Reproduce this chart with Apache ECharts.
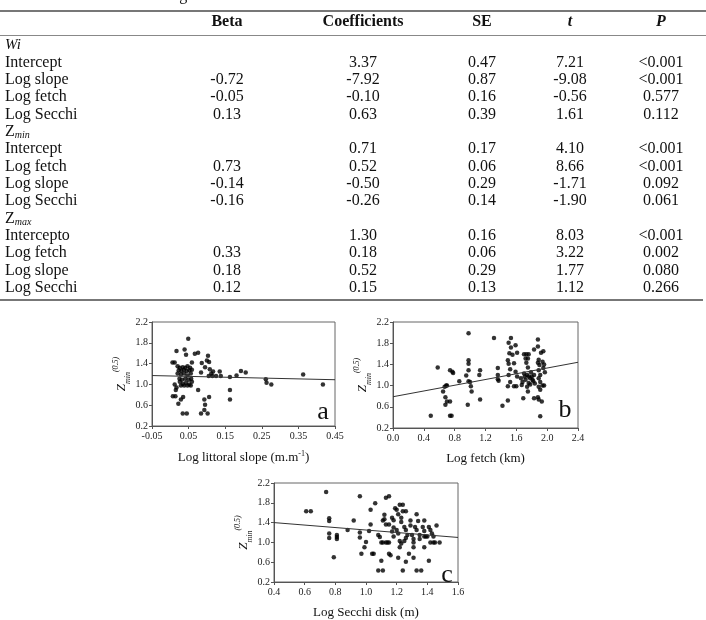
<!DOCTYPE html>
<html>
<head>
<meta charset="utf-8">
<script src="https://cdn.jsdelivr.net/npm/echarts@6/dist/echarts.min.js"></script>
<style>
  html, body { margin: 0; padding: 0; background: #fff; }
  #main { width: 706px; height: 620px; }
</style>
</head>
<body>
<div id="main"></div>
<script>
// 表格数据
var headers = ['Beta', 'Coefficients', 'SE', 't', 'P'];
var rowLabels = ['{i|Wi}', 'Intercept', 'Log slope', 'Log fetch', 'Log Secchi',
    '{z|Z}{s|min}', 'Intercept', 'Log fetch', 'Log slope', 'Log Secchi',
    '{z|Z}{s|max}', 'Intercepto', 'Log fetch', 'Log slope', 'Log Secchi'];
var betaCol = ['', '', '-0.72', '-0.05', '0.13', '', '', '0.73', '-0.14', '-0.16', '', '', '0.33', '0.18', '0.12'];
var coefCol = ['', '3.37', '-7.92', '-0.10', '0.63', '', '0.71', '0.52', '-0.50', '-0.26', '', '1.30', '0.18', '0.52', '0.15'];
var seCol = ['', '0.47', '0.87', '0.16', '0.39', '', '0.17', '0.06', '0.29', '0.14', '', '0.16', '0.06', '0.29', '0.13'];
var tCol = ['', '7.21', '-9.08', '-0.56', '1.61', '', '4.10', '8.66', '-1.71', '-1.90', '', '8.03', '3.22', '1.77', '1.12'];
var pCol = ['', '<0.001', '<0.001', '0.577', '0.112', '', '<0.001', '<0.001', '0.092', '0.061', '', '<0.001', '0.002', '0.080', '0.266'];

// 散点数据 a: Log littoral slope
var slopeData = [
    [0.049, 1.88], [0.017, 1.64], [0.039, 1.67], [0.043, 1.57], [0.067, 1.59], [0.076, 1.61], [0.103, 1.55],
    [0.006, 1.42], [0.012, 1.42], [0.059, 1.42], [0.086, 1.41], [0.100, 1.46], [0.106, 1.43], [0.095, 1.33],
    [0.020, 1.35], [0.026, 1.32], [0.034, 1.33], [0.041, 1.32], [0.047, 1.35], [0.054, 1.32], [0.023, 1.27],
    [0.030, 1.26], [0.037, 1.28], [0.045, 1.26], [0.052, 1.27], [0.059, 1.28], [0.020, 1.21], [0.029, 1.19],
    [0.038, 1.21], [0.047, 1.17], [0.056, 1.21], [0.025, 1.11], [0.032, 1.09], [0.041, 1.11], [0.050, 1.09],
    [0.057, 1.11], [0.026, 1.05], [0.034, 1.01], [0.043, 1.03], [0.052, 1.00], [0.059, 1.05], [0.029, 0.98],
    [0.038, 0.98], [0.047, 0.98], [0.056, 0.98],
    [0.084, 1.23], [0.108, 1.29], [0.112, 1.21], [0.105, 1.16], [0.115, 1.16], [0.125, 1.16], [0.138, 1.16],
    [0.117, 1.25], [0.135, 1.25], [0.163, 1.14], [0.181, 1.17], [0.193, 1.26], [0.206, 1.23],
    [0.012, 1.00], [0.017, 0.94], [0.015, 0.89], [0.076, 0.89], [0.163, 0.89], [0.007, 0.77], [0.014, 0.77],
    [0.035, 0.76], [0.029, 0.71], [0.022, 0.63], [0.093, 0.71], [0.095, 0.61], [0.093, 0.51], [0.106, 0.76],
    [0.163, 0.71], [0.034, 0.44], [0.045, 0.44], [0.084, 0.44], [0.102, 0.44],
    [0.261, 1.10], [0.263, 1.03], [0.276, 1.00], [0.363, 1.19], [0.417, 1.00]
];
var slopeLine = [[-0.05, 1.17], [0.45, 1.09]];

// b: Log fetch
var fetchData = [
    [0.49, 0.43], [0.58, 1.34], [0.65, 0.89], [0.67, 0.98], [0.69, 1.00], [0.70, 1.00], [0.68, 0.78],
    [0.70, 0.70], [0.68, 0.64], [0.74, 0.70], [0.74, 0.43], [0.76, 0.43], [0.74, 1.29], [0.77, 1.26],
    [0.78, 1.24], [0.86, 1.08], [0.95, 1.19], [0.97, 0.64], [0.98, 1.99], [0.98, 1.48], [0.98, 1.41],
    [0.98, 1.29], [0.98, 1.08], [1.00, 1.07], [1.01, 0.99], [1.02, 0.89], [1.13, 1.29], [1.12, 1.20],
    [1.13, 0.74], [1.31, 1.90], [1.36, 1.33], [1.36, 1.20], [1.36, 1.12], [1.37, 1.09], [1.42, 0.62],
    [1.49, 0.72], [1.49, 0.99], [1.52, 1.07], [1.50, 1.81], [1.51, 1.61], [1.49, 1.48], [1.50, 1.41],
    [1.52, 1.31], [1.50, 1.20], [1.53, 1.90], [1.53, 1.72], [1.55, 1.58], [1.59, 1.76], [1.61, 1.62],
    [1.57, 1.42], [1.59, 1.26], [1.61, 1.17], [1.57, 0.99], [1.60, 0.99], [1.66, 1.14], [1.68, 1.07],
    [1.67, 1.01], [1.69, 0.76], [1.70, 1.59], [1.73, 1.59], [1.76, 1.59], [1.72, 1.51], [1.75, 1.51],
    [1.73, 1.43], [1.75, 1.34], [1.70, 1.23], [1.74, 1.20], [1.76, 1.17], [1.78, 1.14], [1.72, 1.11],
    [1.81, 1.11], [1.76, 1.05], [1.82, 1.08], [1.78, 1.02], [1.74, 0.98], [1.84, 1.04], [1.79, 1.25],
    [1.83, 1.20], [1.71, 1.17], [1.80, 1.17], [1.75, 0.89], [1.83, 1.68], [1.88, 1.87], [1.88, 1.74],
    [1.89, 1.49], [1.88, 1.43], [1.90, 1.39], [1.89, 1.29], [1.91, 1.20], [1.89, 1.14], [1.91, 1.07],
    [1.89, 0.98], [1.91, 0.92], [1.88, 0.78], [1.89, 0.74], [1.91, 0.42], [1.92, 1.62], [1.83, 0.76],
    [1.94, 1.45], [1.96, 1.40], [1.95, 1.33], [1.97, 1.25], [1.94, 1.00], [1.96, 1.00], [1.93, 0.70], [1.95, 1.65]
];
var fetchLine = [[0, 0.79], [2.4, 1.44]];

// c: Log Secchi disk
var secchiData = [
    [0.61, 1.63], [0.64, 1.63], [0.74, 2.02], [0.76, 1.49], [0.76, 1.43], [0.76, 1.18], [0.76, 1.09],
    [0.79, 0.70], [0.81, 1.15], [0.81, 1.11], [0.81, 1.07], [0.88, 1.25], [0.92, 1.44], [0.96, 1.20],
    [0.96, 1.10], [0.96, 1.93], [0.99, 0.90], [1.00, 1.01], [1.02, 1.23], [1.03, 1.66], [1.03, 1.36],
    [0.97, 0.77], [1.04, 0.77], [1.05, 0.77], [1.06, 1.79], [1.08, 1.15], [1.09, 1.11], [1.08, 0.43],
    [1.11, 0.43], [1.10, 0.63], [1.10, 1.00], [1.11, 1.00], [1.11, 1.44], [1.12, 1.47], [1.12, 1.56],
    [1.13, 1.90], [1.15, 1.93], [1.13, 1.36], [1.15, 1.36], [1.13, 1.00], [1.14, 1.00], [1.15, 1.00],
    [1.15, 0.77], [1.16, 0.74], [1.17, 1.22], [1.18, 1.12], [1.17, 1.50], [1.18, 1.45], [1.18, 1.30],
    [1.20, 1.25], [1.21, 1.18], [1.19, 1.69], [1.20, 1.66], [1.22, 1.76], [1.24, 1.76], [1.21, 1.57],
    [1.23, 1.50], [1.23, 1.41], [1.22, 1.03], [1.23, 0.98], [1.22, 0.90], [1.21, 0.69], [1.24, 0.43],
    [1.24, 1.63], [1.26, 1.63], [1.25, 1.31], [1.26, 1.25], [1.27, 1.15], [1.26, 1.09], [1.25, 1.03],
    [1.26, 0.61], [1.28, 0.77], [1.29, 1.44], [1.29, 1.34], [1.30, 1.15], [1.31, 1.07], [1.31, 1.00],
    [1.31, 0.90], [1.32, 1.31], [1.33, 1.25], [1.33, 1.57], [1.34, 1.43], [1.31, 0.69], [1.35, 1.15],
    [1.35, 1.07], [1.33, 0.43], [1.36, 0.43], [1.37, 1.31], [1.38, 1.23], [1.38, 1.44], [1.38, 1.12],
    [1.39, 1.12], [1.40, 1.12], [1.38, 0.90], [1.41, 1.31], [1.42, 1.25], [1.41, 0.63], [1.42, 1.00],
    [1.44, 1.00], [1.45, 1.00], [1.43, 1.18], [1.44, 1.12], [1.46, 1.34], [1.48, 1.00]
];
var secchiLine = [[0.4, 1.40], [1.6, 1.10]];

var serif = 'Liberation Serif';
var chart = echarts.init(document.getElementById('main'));

// 表格用 graphic 画
var colX = [227, 363, 482, 570, 661];
var firstRowY = 45;
var rowStep = 17.35;
var cellFont = '16px "Liberation Serif"';
var labelRich = {
    i: { fontFamily: serif, fontSize: 15, fontStyle: 'italic', fill: '#111' },
    z: { fontFamily: serif, fontSize: 16, fill: '#111' },
    s: { fontFamily: serif, fontSize: 10, fontStyle: 'italic', fill: '#111', padding: [7, 0, 0, 0] }
};
var graphics = [];
graphics.push({ type: 'text', x: 5, y: 4, style: { text: 't to assess the coefficient significance.', font: cellFont, fill: '#111', verticalAlign: 'bottom' } });
graphics.push({ type: 'line', shape: { x1: 0, y1: 11, x2: 706, y2: 11 }, style: { stroke: '#777', lineWidth: 2 } });
graphics.push({ type: 'line', shape: { x1: 0, y1: 35.5, x2: 706, y2: 35.5 }, style: { stroke: '#888', lineWidth: 1 } });
graphics.push({ type: 'line', shape: { x1: 0, y1: 300, x2: 703, y2: 300 }, style: { stroke: '#777', lineWidth: 2 } });
for (var h = 0; h < headers.length; h++) {
    graphics.push({
        type: 'text', x: colX[h], y: 22,
        style: {
            text: headers[h], fill: '#111', align: 'center', verticalAlign: 'middle',
            font: (h >= 3 ? 'italic ' : '') + 'bold 16px "Liberation Serif"'
        }
    });
}
var cols = [betaCol, coefCol, seCol, tCol, pCol];
for (var r = 0; r < rowLabels.length; r++) {
    var y = firstRowY + r * rowStep;
    graphics.push({
        type: 'text', x: 5, y: y,
        style: { text: rowLabels[r], font: cellFont, fill: '#111', verticalAlign: 'middle', rich: labelRich }
    });
    for (var c = 0; c < cols.length; c++) {
        if (cols[c][r] === '') continue;
        graphics.push({
            type: 'text', x: colX[c], y: y,
            style: { text: cols[c][r], font: cellFont, fill: '#111', align: 'center', verticalAlign: 'middle' }
        });
    }
}
// 小图字母
graphics.push({ type: 'text', x: 323, y: 412, style: { text: 'a', font: '26px "Liberation Serif"', fill: '#111', align: 'center', verticalAlign: 'middle' } });
graphics.push({ type: 'text', x: 565, y: 410, style: { text: 'b', font: '26px "Liberation Serif"', fill: '#111', align: 'center', verticalAlign: 'middle' } });
graphics.push({ type: 'text', x: 447, y: 575, style: { text: 'c', font: '26px "Liberation Serif"', fill: '#111', align: 'center', verticalAlign: 'middle' } });

// 坐标轴通用
var zName = '{z|Z}{sub|min}{sup|(0.5)}';
var zRich = {
    z: { fontFamily: serif, fontSize: 13, fontStyle: 'italic', color: '#111', lineHeight: 20, verticalAlign: 'middle' },
    sub: { fontFamily: serif, fontSize: 8, fontStyle: 'italic', color: '#111', lineHeight: 20, verticalAlign: 'bottom' },
    sup: { fontFamily: serif, fontSize: 8, fontStyle: 'italic', color: '#111', lineHeight: 20, verticalAlign: 'top' }
};
function xAxisOf(idx, min, max, step, digits, name) {
    return {
        type: 'value', gridIndex: idx, min: min, max: max, interval: step,
        name: name, nameLocation: 'middle', nameGap: 24,
        nameTextStyle: {
            fontFamily: serif, fontSize: 13, color: '#111',
            rich: {
                t: { fontFamily: serif, fontSize: 13, color: '#111' },
                sup: { fontFamily: serif, fontSize: 8, color: '#111', verticalAlign: 'top', lineHeight: 16 }
            }
        },
        axisLine: { show: true, onZero: false, lineStyle: { color: '#555', width: 1 } },
        axisTick: { show: true, length: 3, lineStyle: { color: '#555' } },
        axisLabel: { margin: 5, fontFamily: serif, fontSize: 10, color: '#222', formatter: function (v) { return v.toFixed(digits); } },
        splitLine: { show: false }
    };
}
function yAxisOf(idx) {
    return {
        type: 'value', gridIndex: idx, min: 0.2, max: 2.2, interval: 0.4,
        name: zName, nameLocation: 'middle', nameRotate: 90, nameGap: 20,
        nameTextStyle: { rich: zRich },
        axisLine: { show: true, onZero: false, lineStyle: { color: '#555', width: 1 } },
        axisTick: { show: true, length: 3, lineStyle: { color: '#555' } },
        axisLabel: { margin: 4, fontFamily: serif, fontSize: 10, color: '#222', formatter: function (v) { return v.toFixed(1); } },
        splitLine: { show: false }
    };
}
function dots(idx, data) {
    return { type: 'scatter', xAxisIndex: idx, yAxisIndex: idx, data: data, symbolSize: 4.5, itemStyle: { color: '#000' }, silent: true };
}
function fitLine(idx, data) {
    return { type: 'line', xAxisIndex: idx, yAxisIndex: idx, data: data, symbol: 'none', lineStyle: { color: '#333', width: 1 }, silent: true };
}

var option = {
    animation: false,
    backgroundColor: '#fff',
    grid: [
        { left: 152, top: 322, width: 183, height: 104, show: true, borderColor: '#666', borderWidth: 1 },
        { left: 393, top: 322, width: 185, height: 106, show: true, borderColor: '#666', borderWidth: 1 },
        { left: 274, top: 483, width: 184, height: 105, show: true, borderColor: '#666', borderWidth: 1 }
    ],
    xAxis: [
        xAxisOf(0, -0.05, 0.45, 0.1, 2, '{t|Log littoral slope (m.m}{sup|-1}{t|)}'),
        xAxisOf(1, 0, 2.4, 0.4, 1, 'Log fetch (km)'),
        xAxisOf(2, 0.4, 1.6, 0.2, 1, 'Log Secchi disk (m)')
    ],
    yAxis: [yAxisOf(0), yAxisOf(1), yAxisOf(2)],
    series: [
        fitLine(0, slopeLine), dots(0, slopeData),
        fitLine(1, fetchLine), dots(1, fetchData),
        fitLine(2, secchiLine), dots(2, secchiData)
    ],
    graphic: graphics
};

chart.setOption(option);
</script>
</body>
</html>
